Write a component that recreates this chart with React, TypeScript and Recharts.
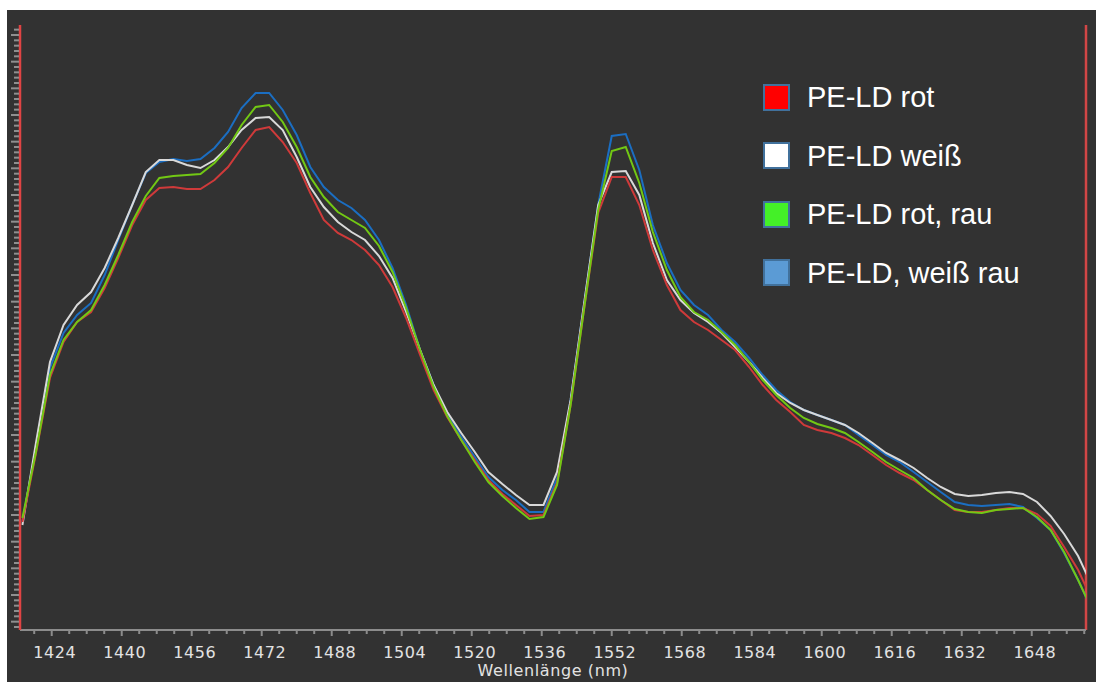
import React from "react";
import { LineChart, Line, XAxis, YAxis, ReferenceLine, Legend } from "recharts";

// Wavelength grid of the spectrometer (nm)
const wavelength = [
  1417.3, 1420.4, 1423.6, 1426.7, 1429.8, 1433.0, 1436.1, 1439.2, 1442.4, 1445.5,
  1448.6, 1451.8, 1454.9, 1458.0, 1461.2, 1464.3, 1467.4, 1470.6, 1473.7, 1476.8,
  1480.0, 1483.1, 1486.2, 1489.4, 1492.5, 1495.6, 1498.8, 1501.9, 1505.0, 1508.2,
  1511.3, 1514.4, 1517.6, 1520.7, 1523.8, 1527.0, 1530.1, 1533.2, 1536.4, 1539.5,
  1542.6, 1545.8, 1548.9, 1552.0, 1555.2, 1558.3, 1561.4, 1564.6, 1567.7, 1570.8,
  1574.0, 1577.1, 1580.2, 1583.4, 1586.5, 1589.6, 1592.8, 1595.9, 1599.0, 1602.2,
  1605.3, 1608.4, 1611.6, 1614.7, 1617.8, 1621.0, 1624.1, 1627.2, 1630.4, 1633.5,
  1636.6, 1639.8, 1642.9, 1646.0, 1649.2, 1652.3, 1655.4, 1658.6, 1661.7,
];

// Spectra (arbitrary intensity units)
const peLdRot = [
  189.5, 293, 405.5, 459.5, 489.5, 504.5, 540.5, 585.5, 635, 672.5,
  690.5, 692, 689, 689, 702.5, 722, 750.5, 777.5, 782, 759.5,
  728, 683, 642.5, 623, 612.5, 597.5, 575, 542, 495.5, 440,
  387.5, 347, 312.5, 282.5, 252.5, 231.5, 215, 198.5, 200, 248,
  365, 515, 653, 707, 707, 665, 597.5, 545, 507.5, 489.5,
  477.5, 462.5, 447.5, 422, 395, 372.5, 354.5, 335, 327.5, 323,
  315.5, 305, 290, 275, 263, 252.5, 237.5, 222.5, 207.5, 204.5,
  204.5, 207.5, 210.5, 210.5, 201.5, 183.5, 152, 117.5, 74,
];
const peLdWeiss = [
  185, 308, 429.5, 485, 515, 534.5, 570.5, 615.5, 665, 714.5,
  732.5, 732.5, 725, 720.5, 732.5, 752, 777.5, 795.5, 797, 777.5,
  737, 692, 662, 639.5, 624.5, 612.5, 588.5, 555.5, 504.5, 447.5,
  395, 354.5, 323, 294.5, 264.5, 246.5, 230, 215, 215, 264.5,
  372.5, 522.5, 665, 714.5, 716, 680, 608, 552.5, 522.5, 503,
  489.5, 473, 452, 429.5, 405.5, 383, 368, 357.5, 350, 342.5,
  335, 323, 308, 293, 282.5, 270.5, 255.5, 242, 231.5, 228.5,
  230, 233, 234.5, 231.5, 219.5, 198.5, 171.5, 138.5, 95,
];
const peLdRotRau = [
  195.5, 294.5, 410, 462.5, 489.5, 507.5, 545, 590, 639.5, 678.5,
  705.5, 708.5, 710, 711.5, 728, 750.5, 785, 812, 815, 789.5,
  752, 707, 677, 654.5, 642.5, 630.5, 603.5, 564.5, 510.5, 447.5,
  392, 348.5, 312.5, 279.5, 249.5, 228.5, 210.5, 194, 197, 245,
  365, 515, 657.5, 746, 752, 698, 624.5, 567.5, 527, 504.5,
  492.5, 474.5, 455, 429.5, 402.5, 380, 360.5, 345.5, 336.5, 330.5,
  323, 309.5, 294.5, 279.5, 267.5, 255.5, 237.5, 222.5, 209, 204.5,
  203, 207.5, 209, 210.5, 197, 177.5, 144.5, 102.5, 59,
];
const peLdWeissRau = [
  189.5, 302, 420.5, 473, 500, 518, 560, 612.5, 665, 713,
  729.5, 734, 731, 734, 750.5, 774.5, 810.5, 833, 833, 807.5,
  770, 722, 692, 672.5, 660.5, 642.5, 612.5, 570.5, 515, 447.5,
  395, 350, 317, 287, 257, 237.5, 222.5, 204.5, 204.5, 255.5,
  372.5, 522.5, 665, 768.5, 771.5, 717.5, 635, 578, 537.5, 515,
  500, 477.5, 459.5, 435.5, 410, 387.5, 369.5, 357.5, 350, 342.5,
  335, 320, 305, 290, 279.5, 264.5, 249.5, 234.5, 219.5, 215,
  213.5, 215, 216.5, 212, 195.5, 177.5, 143, 102.5, 59,
];

// Labelled wavelength ticks
const xTickLabels = [1424, 1440, 1456, 1472, 1488, 1504, 1520, 1536, 1552, 1568, 1584, 1600, 1616, 1632, 1648];

const X_MIN = 1416.75;
const X_MAX = 1660.4;
const Y_MIN = 27.5;
const Y_MAX = 935;

// minor ticks every 4 nm, labelled every 16 nm
const xTicks = Array.from({ length: 61 }, (_, i) => 1420 + 4 * i);
// intensity ticks: minor every 8, major every 40
const yTicks = Array.from({ length: 113 }, (_, i) => 32 + 8 * i);

const seriesDefs = [
  { key: "weissRau", name: "PE-LD, weiß rau", stroke: "#1b6ec2", swatch: "#5b9bd5" },
  { key: "weiss", name: "PE-LD weiß", stroke: "#d9d9d9", swatch: "#ffffff" },
  { key: "rot", name: "PE-LD rot", stroke: "#cf3a3a", swatch: "#ff0000" },
  { key: "rotRau", name: "PE-LD rot, rau", stroke: "#72c814", swatch: "#44f028" },
];
const legendOrder = ["PE-LD rot", "PE-LD weiß", "PE-LD rot, rau", "PE-LD, weiß rau"];

const data = wavelength.map((wl, i) => ({
  wl,
  rot: peLdRot[i],
  weiss: peLdWeiss[i],
  rotRau: peLdRotRau[i],
  weissRau: peLdWeissRau[i],
}));

const XTick = (props: any) => {
  const { x, y, payload } = props;
  const v = payload.value;
  const labelled = xTickLabels.includes(v);
  return (
    <g>
      <line x1={x} y1={y} x2={x} y2={y + (labelled ? 6 : 4)} stroke="#8c8c8c" strokeWidth={2} />
      {labelled && (
        <text
          x={x + 3}
          y={y + 28}
          textAnchor="middle"
          fill="#e2e2e2"
          fontFamily="'DejaVu Sans', Verdana, sans-serif"
          fontSize={16}
          letterSpacing={0.5}
        >
          {v}
        </text>
      )}
    </g>
  );
};

const YTick = (props: any) => {
  const { x, y, payload } = props;
  const major = payload.value % 40 === 0;
  return <line x1={x - (major ? 9 : 6)} y1={y} x2={x - 1} y2={y} stroke="#8f8f8f" strokeWidth={2} />;
};

const LegendBox = (props: any) => {
  const payload: any[] = props.payload || [];
  const items = legendOrder.map((n) => payload.find((p) => p.value === n)).filter(Boolean);
  return (
    <div>
      {items.map((p: any, i: number) => {
        const def = seriesDefs.find((s) => s.name === p.value)!;
        return (
          <div key={p.value} style={{ position: "absolute", left: 0, top: i * 58.5, height: 26, display: "flex", alignItems: "center", whiteSpace: "nowrap" }}>
            <div style={{ width: 23, height: 23, background: def.swatch, border: "2px solid #41719c" }} />
            <span
              style={{
                marginLeft: 17,
                color: "#ffffff",
                fontFamily: "'Liberation Sans', Arial, sans-serif",
                fontSize: 29,
                lineHeight: "26px",
              }}
            >
              {p.value}
            </span>
          </div>
        );
      })}
    </div>
  );
};

export default function App() {
  return (
    <div style={{ position: "absolute", left: 7, top: 10, width: 1089, height: 672, background: "#323232" }}>
      <LineChart width={1089} height={672} data={data} margin={{ top: 15, right: 10, bottom: 0, left: 0 }}>
        <XAxis
          dataKey="wl"
          type="number"
          domain={[X_MIN, X_MAX]}
          allowDataOverflow
          ticks={xTicks}
          interval={0}
          tick={<XTick />}
          tickLine={false}
          tickSize={0}
          tickMargin={0}
          height={52}
          axisLine={{ stroke: "#8c8c8c", strokeWidth: 2 }}
          label={{
            value: "Wellenlänge (nm)",
            position: "insideBottom",
            offset: 6,
            fill: "#e2e2e2",
            fontFamily: "'DejaVu Sans', Verdana, sans-serif",
            fontSize: 16,
            letterSpacing: 0.6,
          }}
        />
        <YAxis
          type="number"
          domain={[Y_MIN, Y_MAX]}
          allowDataOverflow
          ticks={yTicks}
          interval={0}
          tick={<YTick />}
          tickLine={false}
          tickSize={0}
          tickMargin={0}
          width={13}
          axisLine={{ stroke: "#e04343", strokeWidth: 2.5 }}
        />
        <ReferenceLine x={X_MAX} stroke="#d24646" strokeWidth={2.5} />
        {seriesDefs.map((s) => (
          <Line
            key={s.key}
            type="linear"
            dataKey={s.key}
            name={s.name}
            stroke={s.stroke}
            strokeWidth={2}
            dot={false}
            isAnimationActive={false}
          />
        ))}
        <Legend
          layout="vertical"
          align="center"
          verticalAlign="middle"
          content={<LegendBox />}
          wrapperStyle={{ position: "absolute", left: 756, top: 74, width: 300, height: 210 }}
        />
      </LineChart>
    </div>
  );
}
